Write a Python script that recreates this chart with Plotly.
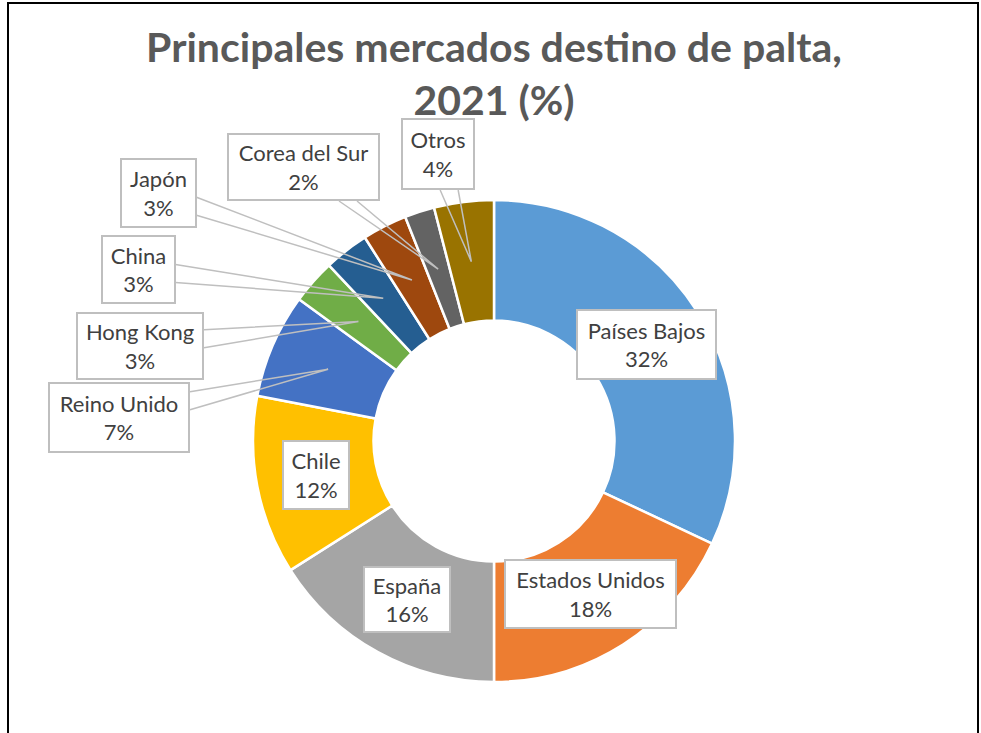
"""Donut chart: principales mercados destino de palta, 2021."""

import math

import plotly.graph_objects as go

# ---- data -------------------------------------------------------------------
mercados = [
    "Países Bajos", "Estados Unidos", "España", "Chile", "Reino Unido",
    "Hong Kong", "China", "Japón", "Corea del Sur", "Otros",
]
participacion = [32, 18, 16, 12, 7, 3, 3, 3, 2, 4]
colores = [
    "#5B9BD5", "#ED7D31", "#A5A5A5", "#FFC000", "#4472C4",
    "#70AD47", "#255E91", "#9E480E", "#636363", "#997300",
]
titulo = "Principales mercados destino de palta,<br>2021 (%)"

# ---- layout constants (pixels in a 981 x 733 page) -------------------------
W, H = 981, 733
CX, CY, R = 494, 441, 241
HOLE = 0.5
FONT = "Lato, Calibri, 'Open Sans', sans-serif"
TEXT_COLOR = "#404040"
CALLOUT_GRAY = "#BFBFBF"
BORDER_W, PAD = 2, 2

# label box sizes (outer, px)
box_size = {
    "Países Bajos": (141, 71),
    "Estados Unidos": (173, 70),
    "España": (88, 67),
    "Chile": (68, 70),
    "Reino Unido": (142, 71),
    "Hong Kong": (128, 68),
    "China": (75, 69),
    "Japón": (77, 70),
    "Corea del Sur": (153, 68),
    "Otros": (74, 72),
}
# outside labels: box centre in page pixels (others sit inside their slice)
label_boxes = {
    "Reino Unido": (119, 417),
    "Hong Kong": (140, 346),
    "China": (138, 269),
    "Japón": (158, 193),
    "Corea del Sur": (303, 167),
    "Otros": (438, 154),
}


def px(x):
    return x / W


def py(y):
    return 1 - y / H


fig = go.Figure(go.Pie(
    labels=mercados,
    values=participacion,
    sort=False,
    direction="clockwise",
    rotation=0,
    hole=HOLE,
    marker=dict(colors=colores, line=dict(color="white", width=2.5)),
    textinfo="none",
    hoverinfo="label+percent",
    domain=dict(x=[px(CX - R), px(CX + R)], y=[py(CY + R), py(CY - R)]),
    showlegend=False,
))

total = sum(participacion)
annotations = []
shapes = []
acum = 0
for nombre, valor in zip(mercados, participacion):
    mid = (acum + valor / 2) / total * 2 * math.pi
    acum += valor
    tip_x = CX + 0.75 * R * math.sin(mid)
    tip_y = CY - 0.75 * R * math.cos(mid)
    texto = f"{nombre}<br>{round(valor / total * 100)}%"
    bw, bh = box_size[nombre]

    if nombre in label_boxes:
        bx, by = label_boxes[nombre]
        # wedge callout: base sits on the box edge facing the slice
        dx, dy = tip_x - bx, tip_y - by
        sx = (bw / 2) / abs(dx) if dx else math.inf
        sy = (bh / 2) / abs(dy) if dy else math.inf
        s = min(sx, sy)
        ex, ey = bx + dx * s, by + dy * s
        if sx < sy:   # leaves through a vertical edge
            p1, p2 = (ex, ey - 9), (ex, ey + 9)
        else:         # leaves through a horizontal edge
            p1, p2 = (ex - 9, ey), (ex + 9, ey)
        path = (f"M {px(p1[0])},{py(p1[1])} L {px(tip_x)},{py(tip_y)} "
                f"L {px(p2[0])},{py(p2[1])}")
        shapes.append(dict(type="path", xref="paper", yref="paper", path=path,
                           line=dict(color=CALLOUT_GRAY, width=1.5),
                           layer="above"))
    else:
        bx, by = tip_x, tip_y

    annotations.append(dict(
        x=px(bx), y=py(by), xref="paper", yref="paper",
        xanchor="center", yanchor="middle",
        text=texto, showarrow=False, align="center", valign="middle",
        width=bw - 2 * (BORDER_W + PAD), height=bh - 2 * (BORDER_W + PAD),
        font=dict(family=FONT, size=22, color=TEXT_COLOR),
        bgcolor="white", bordercolor=CALLOUT_GRAY,
        borderwidth=BORDER_W, borderpad=PAD,
    ))

# outer chart frame
shapes.append(dict(type="rect", xref="paper", yref="paper",
                   x0=px(8), x1=px(978), y0=-0.05, y1=py(3),
                   line=dict(color="black", width=2), layer="above"))

fig.update_layout(
    width=W,
    height=H,
    margin=dict(l=0, r=0, t=0, b=0),
    paper_bgcolor="white",
    plot_bgcolor="white",
    title=dict(text=titulo, x=px(494), xanchor="center", y=py(62),
               yanchor="middle",
               font=dict(family=FONT, size=41, color="#595959", weight="bold")),
    annotations=annotations,
    shapes=shapes,
)

fig.write_html("out.html", config={"displayModeBar": False},
               post_script="document.body.style.margin='0';")
